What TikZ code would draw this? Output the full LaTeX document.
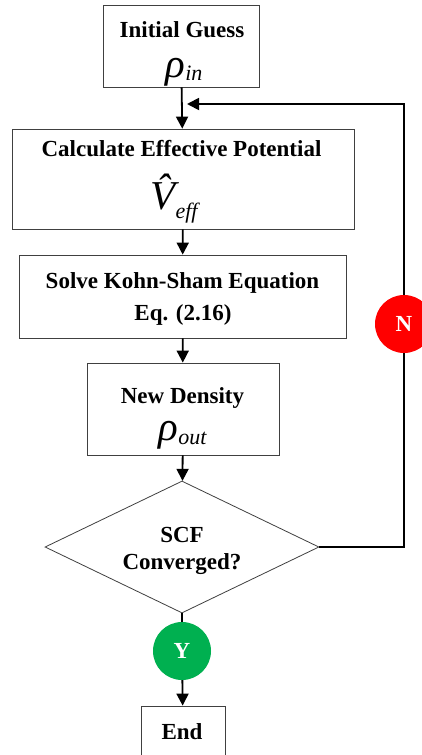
\documentclass[tikz,border=0pt]{standalone}
\usepackage{fontspec}
\setmainfont{Liberation Serif}
\usetikzlibrary{shapes.geometric,arrows.meta}

\definecolor{yesgreen}{RGB}{0,176,80}
\definecolor{nored}{RGB}{255,0,0}

% big italic symbol with a lowered subscript: #1 symbol, #2 subscript, #3 drop
\newcommand{\bigsym}[3]{{\mdseries\itshape\fontsize{41}{41}\selectfont #1\raisebox{-#3}{\fontsize{22}{22}\selectfont #2}}}

\tikzset{
    stepbox/.style={draw=black!75, line width=0.8pt, rectangle, inner sep=0pt},
    decide/.style={draw=black!75, line width=0.8pt, diamond, inner sep=0pt},
    txt/.style={anchor=base, inner sep=0pt, font=\bfseries\fontsize{23}{23}\selectfont},
    tag/.style={circle, fill=#1, text=white, inner sep=0pt, minimum size=58pt,
        font=\bfseries\fontsize{23}{23}\selectfont},
    flow/.style={-{Triangle[length=12pt,width=12pt]}, line width=1.8pt},
    plain/.style={line width=1.8pt}
}

\begin{document}
\begin{tikzpicture}[x=1pt,y=-1pt]
    \useasboundingbox[fill=white] (0,0) rectangle (422,755);
    % Steps
    \node[stepbox, minimum width=156pt, minimum height=82pt] (guess) at (181,46) {};
    \node[stepbox, minimum width=342pt, minimum height=100pt] (calc) at (183,179) {};
    \node[stepbox, minimum width=327pt, minimum height=83pt] (solve) at (182.5,296.5) {};
    \node[stepbox, minimum width=192pt, minimum height=92pt] (dens) at (183,409) {};
    \node[decide, minimum width=274pt, minimum height=132pt] (conv) at (182,547) {};
    \node[stepbox, minimum width=84pt, minimum height=53pt] (endbox) at (183,732.5) {};
    % Texts
    \node[txt] (guesstitle) at (182,37) {Initial Guess};
    \node[txt] (guesssym) at (184,77) {\bigsym{ρ}{in}{3pt}};
    \node[txt] (calctitle) at (181.5,156) {Calculate Effective Potential};
    \node[txt] (calcsym) at (174,209) {\bigsym{\^{V}}{eff}{9pt}};
    \node[txt] (solvetitle) at (182.5,288) {Solve Kohn-Sham Equation};
    \node[txt] (solveeq) at (183,320) {Eq. (2.16)};
    \node[txt] (denstitle) at (182.5,403) {New Density};
    \node[txt] (denssym) at (182.5,440) {\bigsym{ρ}{out}{4pt}};
    \node[txt] (convtop) at (182,542) {SCF};
    \node[txt] (convbot) at (182,569) {Converged?};
    \node[txt] (endtitle) at (182,739) {End};
    % Decisions
    \node[tag=yesgreen] (ycirc) at (182,651) {Y};
    \node[tag=nored] (ncirc) at (404,324) {N};
    \coordinate (merge) at (182,104);
    % Connectors
    \draw[flow] (guess) -- (calc);
    \draw[flow] (calc) -- (solve);
    \draw[flow] (solve) -- (dens);
    \draw[flow] (dens) -- (conv);
    \draw[plain] (conv.south) -- (ycirc);
    \draw[flow] (ycirc) -- (endbox);
    \draw[plain] (conv.east) -| (ncirc.south);
    \draw[flow] (ncirc.north) |- ([xshift=5pt]merge);
\end{tikzpicture}
\end{document}
